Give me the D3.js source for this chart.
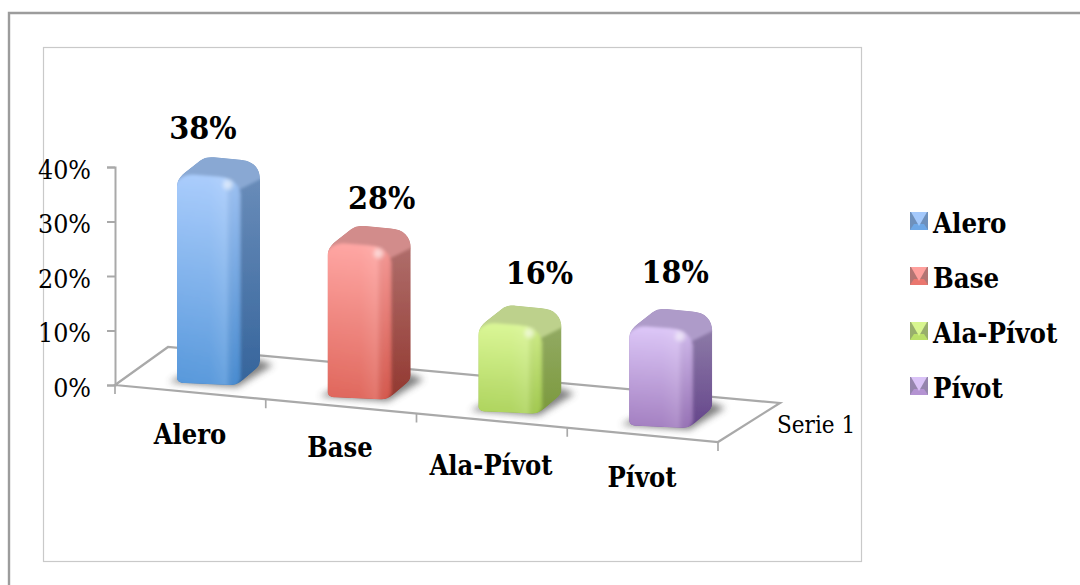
<!DOCTYPE html>
<html><head><meta charset="utf-8">
<script src="https://cdn.jsdelivr.net/npm/d3@7"></script>
<style>html,body{margin:0;padding:0;background:#fff}svg{display:block}
text{font-family:"DejaVu Serif Condensed","DejaVu Serif",serif;font-stretch:condensed;fill:#000}</style></head>
<body><div id="c"></div>
<script>
const categories = ["Alero","Base","Ala-Pívot","Pívot"];
const values = [38,28,16,18];
const yTicks = [0,10,20,30,40];
const seriesName = "Serie 1";
const frontTop = ["#a4c9fc","#ffa09d","#d8f68f","#dac3f7"];
const frontBottom = ["#4a90d8","#dc5a4e","#a6cf50","#9a73ba"];
const sideTop = ["#6e90bc","#b37573","#98ae6c","#9585ad"];
const sideBottom = ["#35649b","#923830","#7b993d","#65468b"];
const topFace = ["#89a8d3","#d28c8b","#bdd18c","#ae9bc9"];
const labelShift = [26,54,61,46];
const labelBase = [139,209,284,283];
const catLabelCx = [190,340,491,642];
const catLabelY = [444,457,475,487];

const W=1080,H=585;
const svg=d3.select("#c").append("svg").attr("width",W).attr("height",H);
const defs=svg.append("defs");
const blur=(id,s)=>defs.append("filter").attr("id",id).attr("x","-40%").attr("y","-40%").attr("width","180%").attr("height","180%")
  .append("feGaussianBlur").attr("stdDeviation",s);
blur("b05",0.5);blur("b15",1.6);blur("b3",3.5);blur("t",0.4);blur("h",2);
function vGrad(id,a,b){const g=defs.append("linearGradient").attr("id",id).attr("x1",0).attr("y1",0).attr("x2",0).attr("y2",1);
  g.append("stop").attr("offset",0).attr("stop-color",a);g.append("stop").attr("offset",1).attr("stop-color",b);}
categories.forEach((c,i)=>{vGrad("f"+i,frontTop[i],frontBottom[i]);vGrad("s"+i,sideTop[i],sideBottom[i]);});
const hg=defs.append("linearGradient").attr("id","sheen");
[[0,"#000",.10],[.08,"#fff",.06],[.55,"#fff",.08],[.78,"#fff",.16],[.93,"#000",.03],[1,"#000",.12]].forEach(s=>
  hg.append("stop").attr("offset",s[0]).attr("stop-color",s[1]).attr("stop-opacity",s[2]));

// frames
svg.append("path").attr("d",`M${W},13H9V${H}`).attr("fill","none").attr("stroke","#9c9c9c").attr("stroke-width",2.4);
svg.append("rect").attr("x",43.5).attr("y",47.5).attr("width",818).attr("height",514).attr("fill","#fff").attr("stroke","#c9c9c9").attr("stroke-width",1.2);

// scales
const y=d3.scaleLinear().domain([0,40]).range([385,167]);
const x=d3.scaleBand().domain(categories).range([115,718]);
const slope=57/603;
const floorY=px=>y(0)+(px-x.range()[0])*slope;
const depthX=53,depthY=-38;
const axisC="#a9a9a9";

// floor
const x0=x.range()[0],x1=x.range()[1];
svg.append("path").attr("fill","none").attr("stroke",axisC).attr("stroke-width",2.2)
 .attr("d",`M${x0},${floorY(x0)}L${x0+depthX},${floorY(x0)+depthY}L${x1+62},${floorY(x1)-39}L${x1},${floorY(x1)}Z`);
// y axis
const ax=svg.append("g").attr("transform",`translate(${x0},0)`).call(d3.axisLeft(y).tickValues(yTicks).tickSize(8).tickPadding(16).tickFormat(d=>d+"%"));
ax.selectAll("path,line").attr("stroke",axisC).attr("stroke-width",2);
ax.selectAll("text").attr("font-size",26.5).attr("style",'font-family:"DejaVu Serif Condensed","DejaVu Serif",serif;font-stretch:condensed;fill:#000').attr("dy","0.42em");
// x ticks
const xt=[...categories.map(c=>x(c)),x1];
svg.append("g").selectAll("line").data(xt).join("line").attr("x1",d=>d).attr("x2",d=>d)
 .attr("y1",d=>floorY(d)).attr("y2",d=>floorY(d)+9).attr("stroke",axisC).attr("stroke-width",1.7);

// bars
const unit=y(0)-y(1);
const bars=svg.append("g").selectAll("g").data(categories).join("g");
bars.each(function(c,i){
  const g=d3.select(this);
  const a=x(c)+62;
  const yb=floorY(a+32)-9;
  const yt=yb-values[i]*unit-4;
  // shadow
  g.append("path").attr("filter","url(#b3)").attr("fill","#444").attr("opacity",.68)
   .attr("d",`M${a-8},${yb-3}L${a+60},${yb+2}L${a+96},${yb-20}L${a+80},${yb-26}L${a+10},${yb-12}Z`);
  const sil=`M${a},${yb-7}L${a},${yt+13}C${a},${yt+6} ${a+4},${yt+2} ${a+9},${yt-2}L${a+23},${yt-13}C${a+27},${yt-16} ${a+31},${yt-17} ${a+37},${yt-16.5}L${a+63},${yt-14}C${a+76},${yt-13} ${a+83},${yt-6} ${a+83},${yt+6}L${a+83},${yb-24}C${a+83},${yb-20} ${a+81},${yb-18} ${a+79},${yb-16}L${a+66},${yb-5}C${a+61},${yb-1} ${a+58},${yb} ${a+52},${yb}L${a+8},${yb-2}C${a+3},${yb-2} ${a},${yb-4} ${a},${yb-7}Z`;
  const clipId="clip"+i;
  defs.append("clipPath").attr("id",clipId).append("path").attr("d",sil);
  const outer=g.append("g").attr("filter","url(#b05)");
  const b=outer.append("g").attr("clip-path",`url(#${clipId})`);
  b.append("path").attr("d",sil).attr("fill",`url(#s${i})`);
  const inner=b.append("g").attr("filter","url(#b15)");
  // top face
  inner.append("path").attr("fill",topFace[i])
   .attr("d",`M${a-6},${yt+8}L${a+20},${yt-22}L${a+90},${yt-20}L${a+90},${yt+2}L${a+62},${yt+16}L${a+45},${yt+3}Z`);
  // front face
  const front=`M${a-6},${yb+4}L${a-6},${yt+15}C${a},${yt+6} ${a+6},${yt+1} ${a+16},${yt+1}L${a+42},${yt+3}C${a+54},${yt+4} ${a+62},${yt+10} ${a+64},${yt+20}L${a+64},${yb-6}L${a+58},${yb+4}Z`;
  inner.append("path").attr("d",front).attr("fill",`url(#f${i})`);
  inner.append("path").attr("d",front).attr("fill","url(#sheen)");
  // highlight
  b.append("circle").attr("cx",a+51).attr("cy",yt+11).attr("r",5).attr("fill","#fff").attr("opacity",.55).attr("filter","url(#h)");
  // value label
  g.append("text").attr("x",a+labelShift[i]).attr("y",labelBase[i]).attr("text-anchor","middle")
   .attr("font-size",32).attr("font-weight",700).text(values[i]+"%");
  // category label
  g.append("text").attr("x",catLabelCx[i]).attr("y",catLabelY[i]).attr("text-anchor","middle")
   .attr("font-size",27).attr("font-weight",700).text(c);
});
svg.append("text").attr("x",777).attr("y",433).attr("font-size",24).text(seriesName);

// legend
const leg=d3.scaleBand().domain(categories).range([204,424]);
const lg=svg.append("g").selectAll("g").data(categories).join("g").attr("transform",c=>`translate(910,${leg(c)+8})`);
lg.each(function(c,i){
  const g=d3.select(this),s=18,h=s/2;
  const sw=g.append("g").attr("filter","url(#t)");
  sw.append("rect").attr("width",s).attr("height",s).attr("fill",sideTop[i]);
  sw.append("path").attr("d",`M0,${s}H${s}L${s-4},${s-6}H4Z`).attr("fill",d3.interpolateRgb(frontTop[i],frontBottom[i])(.6));
  sw.append("path").attr("d",`M1,0H${s-1}L${h},${s-4}Z`).attr("fill",frontTop[i]);
  g.append("text").attr("x",23).attr("y",21).attr("font-size",27.3).attr("font-weight",700).text(c);
});
</script></body></html>
